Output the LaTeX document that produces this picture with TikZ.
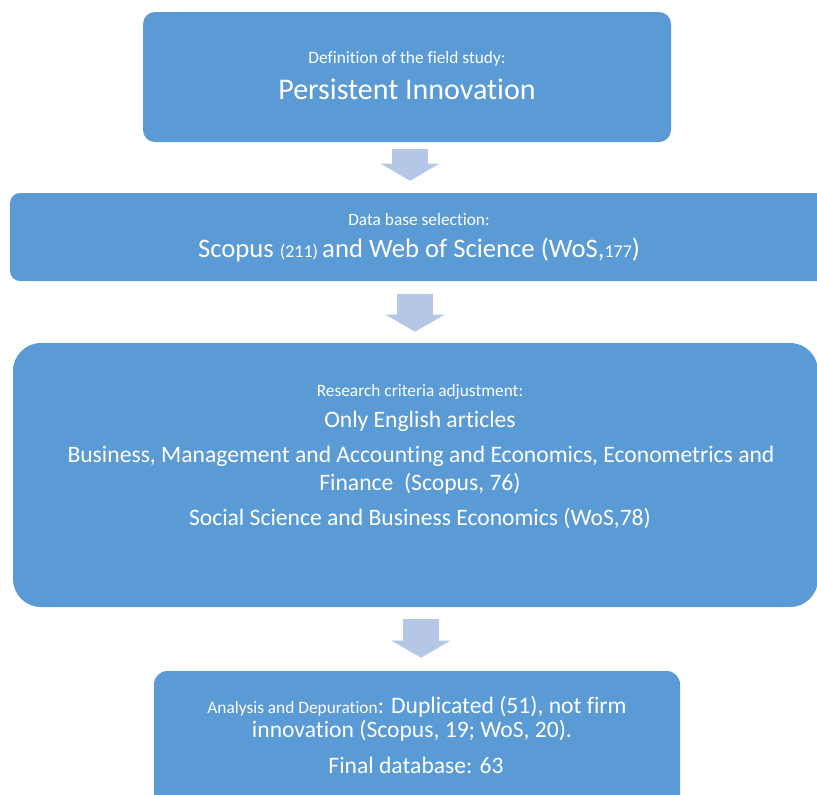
\documentclass[tikz,border=0pt]{standalone}
\usepackage{fontspec}
\setmainfont{Carlito}[Ligatures={NoCommon,NoRequired,NoContextual}]
\usetikzlibrary{arrows.meta, positioning}

\definecolor{boxblue}{HTML}{5B9BD5}
\definecolor{arrowblue}{HTML}{B4C7E7}

\newcommand{\lblfont}{\fontsize{13}{15.5}\selectfont}
\newcommand{\topfont}{\fontsize{22.5}{27}\selectfont}
\newcommand{\bigfont}{\fontsize{20}{24}\selectfont}
\newcommand{\midfont}{\fontsize{17.7}{21}\selectfont}
\newcommand{\numfont}{\fontsize{13.5}{16}\selectfont}

\begin{document}
\begin{tikzpicture}
  [
    x                 = 0.75pt,
    y                 = -0.75pt,
    stage/.style      = {fill=boxblue, draw=none, inner sep=0pt, rounded corners=9pt},
    flow/.style       = {draw=arrowblue, line width=27pt, -{Triangle[width=43.5pt,length=12.75pt]}},
    txt/.style        = {text=white, inner sep=0pt, anchor=base}
  ]
  \clip (0,0) rectangle (817,794);
  \fill[white] (0,0) rectangle (817,794);

  % stages
  \node[stage, minimum width=396pt, minimum height=97.5pt] (b1) at (407,77) {};
  \node[stage, minimum width=615pt, minimum height=66pt, rounded corners=7.5pt] (b2) at (420,237) {};
  \node[stage, minimum width=603.75pt, minimum height=198pt, rounded corners=21pt] (b3) at (415.5,475) {};
  \node[stage, minimum width=394.5pt, minimum height=111.75pt, rounded corners=10pt] (b4) at (417,745.5) {};

  % arrows between stages
  \draw[flow, shorten <=5.25pt, shorten >=9pt] ([xshift=2.25pt]b1.south) -- ([xshift=2.25pt]b1.south |- b2.north);
  \draw[flow, shorten <=9.75pt, shorten >=8.25pt] ([xshift=-3.75pt]b2.south) -- ([xshift=-3.75pt]b2.south |- b3.north);
  \draw[flow, shorten <=9pt, shorten >=9.75pt] ([xshift=4.1pt]b3.south) -- ([xshift=4.1pt]b3.south |- b4.north);

  % texts
  \node[txt, font=\lblfont] (t1a) at (407,63) {Definition of the field study:};
  \node[txt, font=\topfont] (t1b) at (407,99) {Persistent Innovation};

  \node[txt, font=\lblfont] (t2a) at (419,225) {Data base selection:};
  \node[txt, font=\bigfont] (t2b) at (419,257) {Scopus {\numfont(211) }and Web of Science (WoS,{\numfont177})};

  \node[txt, font=\lblfont] (t3a) at (420,396) {Research criteria adjustment:};
  \node[txt, font=\midfont] (t3b) at (420,427) {Only English articles};
  \node[txt, font=\midfont] (t3c) at (421,462) {Business, Management and Accounting and Economics, Econometrics and};
  \node[txt, font=\midfont] (t3d) at (420,490) {Finance~~(Scopus, 76)};
  \node[txt, font=\midfont] (t3e) at (420,525) {Social Science and Business Economics (WoS,78)};

  \node[txt, font=\midfont] (t4a) at (417,713) {{\lblfont Analysis and Depuration}: Duplicated (51), not firm};
  \node[txt, font=\midfont] (t4b) at (412,737) {innovation (Scopus, 19; WoS, 20).};
  \node[txt, font=\midfont] (t4c) at (416,773) {Final database: 63};
\end{tikzpicture}
\end{document}
